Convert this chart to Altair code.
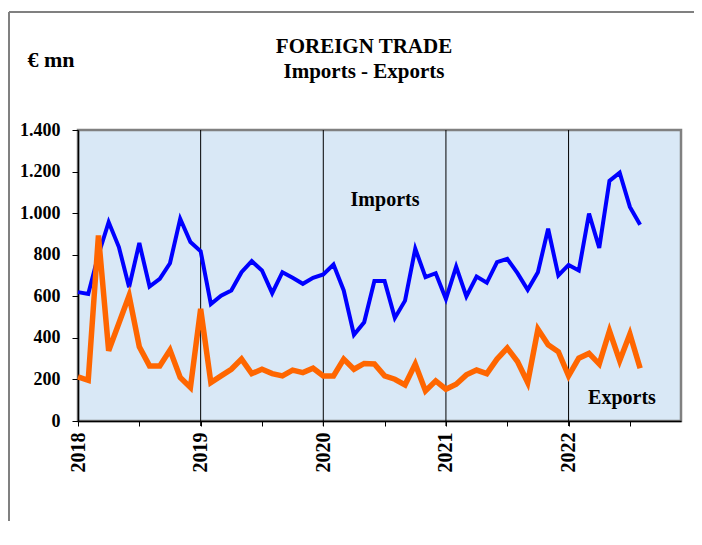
import altair as alt
import pandas as pd

months = pd.date_range("2018-01-01", periods=56, freq="MS").strftime("%Y-%m").tolist()

imports = [620, 611, 800, 957, 837, 644, 856, 647, 684, 759, 973, 861,
           817, 563, 603, 628, 716, 769, 724, 615, 716, 689, 660, 689,
           705, 753, 628, 415, 475, 673, 673, 496, 579, 829, 692, 711,
           587, 743, 599, 695, 665, 764, 780, 711, 631, 716, 925, 700,
           751, 724, 998, 833, 1155, 1195, 1030, 944]

exports = [212, 196, 893, 338, 470, 603, 357, 265, 265, 341, 209, 161,
           539, 185, 217, 249, 298, 228, 249, 228, 217, 245, 233, 254,
           217, 217, 298, 249, 277, 274, 217, 201, 174, 274, 145, 193,
           153, 177, 222, 245, 228, 298, 351, 286, 185, 442, 367, 333,
           217, 302, 325, 274, 434, 290, 418, 254]

year_labels = ["2018", "2019", "2020", "2021", "2022"]
y_ticks = [0, 200, 400, 600, 800, 1000, 1200, 1400]

df = pd.DataFrame({
    "month": months,
    "idx": list(range(len(months))),
    "Imports": imports,
    "Exports": exports,
})
grid_df = pd.DataFrame({"idx": [12 * i for i in range(1, len(year_labels))]})

W, H = 603, 291
PAD_R = 13
FONT = "Liberation Serif"

xscale = alt.Scale(domain=[0, 59], nice=False, zero=False)
yscale = alt.Scale(domain=[0, 1400], nice=False)

x_axis = alt.Axis(
    values=list(range(0, 60, 6)),
    labelExpr="datum.value % 12 == 0 ? toString(2018 + datum.value / 12) : ''",
    labelAngle=-90, labelAlign="right", labelBaseline="middle",
    labelFont=FONT, labelFontSize=20, labelFontWeight="bold", labelColor="black",
    labelPadding=6, tickSize=5, tickColor="black", domainColor="black",
    domainWidth=1.5, grid=False, title=None, labelOverlap=False,
)
y_axis = alt.Axis(
    values=y_ticks,
    labelExpr="replace(format(datum.value, ','), ',', '.')",
    labelFont=FONT, labelFontSize=18, labelFontWeight="bold", labelColor="black",
    labelPadding=12, tickSize=6, tickColor="black", domainColor="black",
    domainWidth=1.5, grid=False, title=None,
)

base = alt.Chart(df)

imp_line = base.mark_line(color="#0000ff", strokeWidth=4, strokeJoin="miter").encode(
    x=alt.X("idx:Q", scale=xscale, axis=x_axis),
    y=alt.Y("Imports:Q", scale=yscale, axis=y_axis),
)
exp_line = base.mark_line(color="#ff6600", strokeWidth=5.5, strokeJoin="miter").encode(
    x=alt.X("idx:Q", scale=xscale),
    y=alt.Y("Exports:Q", scale=yscale),
)

grid = alt.Chart(grid_df).mark_rule(color="black", strokeWidth=1).encode(
    x=alt.X("idx:Q", scale=xscale),
    y=alt.value(0), y2=alt.value(H + 5),
)

def label(text, x, y, size=19):
    return alt.Chart(pd.DataFrame({"t": [text]})).mark_text(
        font=FONT, fontSize=size, fontWeight="bold", color="black",
        align="center", baseline="middle",
    ).encode(text="t:N", x=alt.value(x), y=alt.value(y))

frame_src = pd.DataFrame({"a": [0]})
frame_top = alt.Chart(frame_src).mark_rule(color="#808080", strokeWidth=2).encode(
    x=alt.value(-69), x2=alt.value(W + PAD_R), y=alt.value(-118))
frame_left = alt.Chart(frame_src).mark_rule(color="#808080", strokeWidth=2).encode(
    x=alt.value(-69), y=alt.value(-118), y2=alt.value(H + 100))

chart = alt.layer(
    grid, imp_line, exp_line,
    label("FOREIGN  TRADE", 286, -83, 21),
    label("Imports - Exports", 286, -58, 21),
    label("€ mn", -27, -70, 22),
    label("Imports", 307, 70, 20),
    label("Exports", 544, 268, 20),
    frame_top, frame_left,
).properties(
    width=W, height=H,
    autosize=alt.AutoSizeParams(type="none"),
    padding={"left": 70, "top": 122, "right": PAD_R, "bottom": 100},
    background="white",
).configure_view(
    fill="#d9e8f6", stroke="#808080", strokeWidth=2.5,
)

chart.save("out.html", embed_options={"renderer": "svg", "actions": False})
